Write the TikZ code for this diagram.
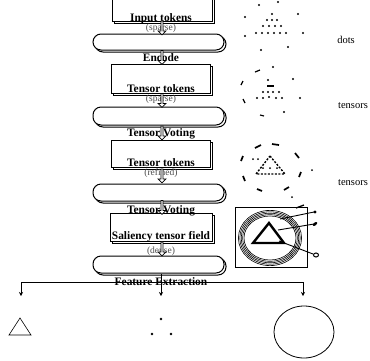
\documentclass[tikz,border=0pt]{standalone}
\usepackage{fontspec}
\setmainfont{Liberation Serif}
\usetikzlibrary{shapes.arrows,shadows,arrows.meta}

\tikzset{
  token/.style={draw, line width=0.9pt, fill=white, minimum width=100pt, copy shadow={shadow xshift=2.5pt, shadow yshift=-2.5pt}},
  stage/.style={draw, line width=1pt, fill=white, rounded corners=8pt, minimum width=131pt, copy shadow={shadow xshift=2pt, shadow yshift=-2pt}},
  lbl/.style={font=\fontsize{11.4}{12}\selectfont\bfseries, inner sep=0pt},
  sub/.style={font=\fontsize{9.5}{10}\selectfont, text=black!70, inner sep=0pt},
  side/.style={font=\fontsize{10.5}{11}\selectfont, inner sep=0pt},
  harrow/.style={single arrow, draw, line width=0.7pt, fill=white, shape border rotate=270, minimum width=8pt,
    single arrow head extend=1.2pt, inner sep=0pt, minimum height=14pt},
  stroke/.style={line width=1.2pt},
}

\begin{document}
\begin{tikzpicture}[x=1pt, y=-1pt]
  \useasboundingbox (0,0) rectangle (370,360);

  % flow column
  \node[token, minimum height=30pt] (box1) at (162,6) {};
  \node[stage, minimum height=16pt] (st1) at (158.5,42) {};
  \node[token, minimum width=99pt, minimum height=29pt] (box2) at (160.5,78.5) {};
  \node[stage, minimum height=18pt] (st2) at (158.5,116) {};
  \node[token, minimum width=99pt, minimum height=27pt] (box3) at (160.5,153.5) {};
  \node[stage, minimum height=17pt] (st3) at (158.5,192.5) {};
  \node[token, minimum width=102pt, minimum height=28pt] (box4) at (161,227) {};
  \node[stage, minimum height=17pt] (st4) at (158.5,264.5) {};

  \node[lbl] (intok) at (161,18.5) {Input tokens};
  \node[sub] (sp1) at (161,28) {(sparse)};
  \node[lbl] (enc) at (161,58) {Encode};
  \node[lbl] (tok1) at (161,89) {Tensor tokens};
  \node[sub] (sp2) at (161,99.5) {(sparse)};
  \node[lbl] (tv1) at (161,134) {Tensor Voting};
  \node[lbl] (tok2) at (161,163) {Tensor tokens};
  \node[sub] (ref) at (161,173.5) {(refined)};
  \node[lbl] (tv2) at (161,211) {Tensor Voting};
  \node[lbl] (sal) at (161,237) {Saliency tensor field};
  \node[sub] (den) at (161,251) {(dense)};
  \node[lbl] (fex) at (161,282) {Feature Extraction};

  \path (box1.south) -- node[harrow]{} (box1.south |- st1.north);
  \path (box1.south |- st1.south) -- node[harrow]{} (box1.south |- box2.north);
  \path (box1.south |- box2.south) -- node[harrow]{} (box1.south |- st2.north);
  \path (box1.south |- st2.south) -- node[harrow]{} (box1.south |- box3.north);
  \path (box1.south |- box3.south) -- node[harrow]{} (box1.south |- st3.north);
  \path (box1.south |- st3.south) -- node[harrow]{} (box1.south |- box4.north);
  \path (box1.south |- box4.south) -- node[harrow]{} (box1.south |- st4.north);

  % feature extraction
  \coordinate (fx) at (161,282);
  \coordinate (fl) at (21,282);
  \coordinate (fr) at (303,282);
  \coordinate (ftri) at (21,296);
  \coordinate (fdot) at (161,296);
  \coordinate (fell) at (303,296);
  \draw[line width=0.7pt] (fx |- st4.south) -- (fx);
  \draw[line width=0.7pt] (fl) -- (fr);
  \draw[line width=0.7pt, -{Stealth[length=4pt,width=4pt]}] (fl) -- (ftri);
  \draw[line width=0.7pt, -{Stealth[length=4pt,width=4pt]}] (fx) -- (fdot);
  \draw[line width=0.7pt, -{Stealth[length=4pt,width=4pt]}] (fr) -- (fell);

  \draw[line width=0.6pt] (9,335) -- (31,335) -- (20,318) -- cycle;
  \foreach \x/\y in {161/319,152/334,171/334}
    \fill (\x,\y) circle[radius=1.3pt];
  \draw[line width=0.8pt] (304,332) ellipse[x radius=30pt, y radius=26pt];

  % right column
  \foreach \x/\y in {272/14,267/20,272/20,277/20,263/26,269/26,275/26,281/26,
      256/33,262/33,268/33,274/33,280/33,286/33,
      259/5,278/2,245/17,298/14,303/33,245/36,261/50,288/47}
    \fill (\x,\y) circle[radius=1.1pt];
  \node[side] (dots) at (346,40) {dots};

  \foreach \x/\y in {273/67,268/80,293/79,263/92,268/92,273/92,279/92,
      257/98,263/98,269/97,276/98,282/98,300/98,284/112}
    \fill (\x,\y) circle[radius=1.1pt];
  \foreach \xa/\ya/\xb/\yb in {255/72/260/70,241/85/243/81,267/86/274/86,
      243/99/245/103,260/115/264/116}
    \draw[stroke] (\xa,\ya) -- (\xb,\yb);
  \node[side] (tens1) at (353,106) {tensors};

  \foreach \xa/\ya/\xb/\yb in {255/148/261/145,272/144/279/145,295/153/299/158,
      241/161/243/156,299/177/301/172,243/176/245/181,
      257/189/262/191,284/190/289/187}
    \draw[line width=1.7pt] (\xa,\ya) -- (\xb,\yb);
  \foreach \x/\y in {312/170,292/197,253/159,258/159,263/168,270/168,277/168}
    \fill (\x,\y) circle[radius=1pt];
  \draw[line width=1.4pt, dash pattern=on 2pt off 1.5pt] (270,156) -- (285,174) -- (256,174) -- cycle;
  \node[side] (tens2) at (353,183) {tensors};

  \node[draw, line width=1pt, minimum width=72pt, minimum height=60pt] (field) at (271,237) {};
  \foreach \r in {0,1.4,...,5.6}
    \draw[line width=0.6pt] (270,238) ellipse[x radius={26pt+\r pt}, y radius={22pt+\r pt}];
  \draw[line width=2.4pt, line join=miter] (269,223) -- (284,243) -- (253,243) -- cycle;
  \draw[line width=0.9pt] (280,219) -- (314,212);
  \fill (315,212) circle[radius=1.6pt];
  \draw[line width=0.9pt] (278,230) -- (314,224);
  \fill[rotate around={40:(315,224)}] (315,224) ellipse[x radius=2.6pt, y radius=1.4pt];
  \draw[line width=0.9pt] (279,241) -- (313,254);
  \draw[line width=1pt] (316,255) ellipse[x radius=2.5pt, y radius=2pt];
  \draw[line width=1.3pt] (296,208) -- (304,205);
\end{tikzpicture}
\end{document}
